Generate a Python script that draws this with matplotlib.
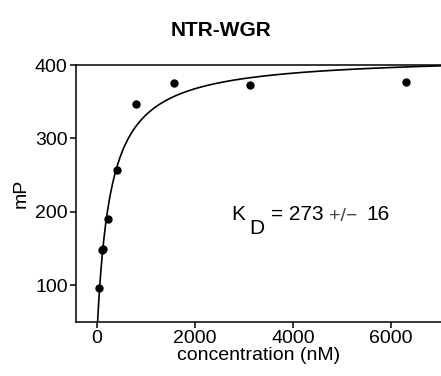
import numpy as np
import matplotlib.pyplot as plt

plt.rcParams['font.family'] = ['Liberation Sans', 'DejaVu Sans']

# measured points
conc = [45, 95, 130, 230, 410, 790, 1580, 3125, 6300]
mp = [96, 148, 149, 190, 257, 347, 376, 373, 377]

# one-site fit
A = 36.0
B = 377.0
KD = 273.0

xticks = [0, 2000, 4000, 6000]
yticks = [100, 200, 300, 400]

W, H = 441, 376
fig = plt.figure(figsize=(W / 100, H / 100), dpi=100)
ax = fig.add_axes([76 / W, 1 - 322 / H, (W - 76) / W, (322 - 65) / H])

x = np.linspace(0, 7100, 800)
y = A + B * x / (KD + x)
ax.plot(x, y, color='black', lw=1.2)
ax.plot(conc, mp, 'o', color='black', ms=5)

ax.set_xlim(-430, 7020)
ax.set_ylim(50, 400)
ax.set_xticks(xticks)
ax.set_yticks(yticks)
ax.spines['right'].set_visible(False)
for s in ['left', 'bottom', 'top']:
    ax.spines[s].set_linewidth(1.1)
ax.tick_params(direction='out', length=4, width=1.1, labelsize=14, pad=2)
ax.set_xlabel('concentration (nM)', fontsize=14, labelpad=0)
ax.set_ylabel('mP', fontsize=14, labelpad=4)

fig.text(0.5, 1 - 30 / H, 'NTR-WGR', ha='center', va='center',
         fontsize=15, fontweight='bold')

# K_D annotation
fig.text(231 / W, 1 - 215 / H, 'K', ha='left', va='center', fontsize=15)
fig.text(249 / W, 1 - 228 / H, 'D', ha='left', va='center', fontsize=15)
fig.text(271 / W, 1 - 215 / H, '= 273', ha='left', va='center', fontsize=15)
fig.text(329 / W, 1 - 216 / H, '+/\u2212', ha='left', va='center', fontsize=14,
         color='#444444', fontweight='light')
fig.text(366 / W, 1 - 215 / H, '16', ha='left', va='center', fontsize=15)

fig.savefig('out.png', dpi=100)
